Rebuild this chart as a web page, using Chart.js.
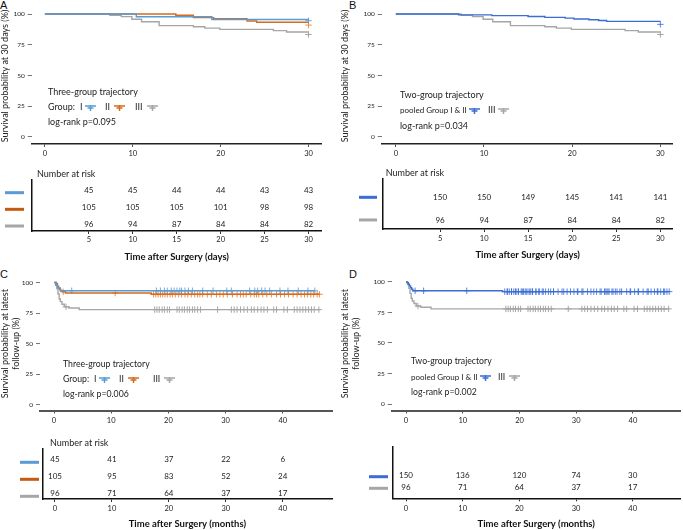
<!DOCTYPE html>
<html><head><meta charset="utf-8">
<script src="https://cdn.jsdelivr.net/npm/chart.js@4/dist/chart.umd.min.js"></script>
<style>
body{margin:0;background:#fff;width:683px;height:530px;overflow:hidden;position:relative}
canvas{position:absolute}
.pl{position:absolute;font:11px "Liberation Sans",Arial,sans-serif;color:#111;line-height:11px}
</style></head><body>
<div class="pl" style="left:0;top:0">A</div>
<div class="pl" style="left:349px;top:0">B</div>
<div class="pl" style="left:0;top:269px">C</div>
<div class="pl" style="left:349px;top:269px">D</div>
<canvas id="aTop" width="340" height="165" style="left:0;top:0"></canvas>
<canvas id="bTop" width="343" height="165" style="left:340px;top:0"></canvas>
<canvas id="aRisk" width="340" height="105" style="left:0;top:165px"></canvas>
<canvas id="bRisk" width="343" height="105" style="left:340px;top:165px"></canvas>
<canvas id="cTop" width="340" height="160" style="left:0;top:270px"></canvas>
<canvas id="dTop" width="343" height="160" style="left:340px;top:270px"></canvas>
<canvas id="cRisk" width="340" height="100" style="left:0;top:430px"></canvas>
<canvas id="dRisk" width="343" height="100" style="left:340px;top:430px"></canvas>
<script>
// ---------------- DATA ----------------
const yTicks = [0, 25, 50, 75, 100];
const dayTicks = [0, 10, 20, 30];
const dayRiskTicks = [5, 10, 15, 20, 25, 30];
const monthTicks = [0, 10, 20, 30, 40];

// 30-day survival (time in days, survival %)
const a_I_t = [0, 10.4, 19.0, 30];
const a_I_s = [100, 97.8, 95.6, 95.6];
const a_II_t = [0, 14.9, 16.9, 19.2, 23.0, 24.1, 30];
const a_II_s = [100, 99.0, 97.1, 96.2, 94.3, 93.3, 93.3];
const a_III_t = [0, 7.4, 8.7, 9.9, 11.0, 13.0, 16.9, 18.2, 19.9, 26.0, 27.5, 30];
const a_III_s = [100, 99.0, 97.9, 95.8, 93.7, 90.6, 89.6, 88.5, 87.5, 86.5, 85.4, 85.4];
const b_P_t = [0, 7.1, 10.9, 15.0, 16.9, 19.2, 20.2, 21.9, 23.0, 23.9, 30];
const b_P_s = [100, 99.3, 98.7, 98.0, 97.3, 96.7, 96.0, 95.3, 94.7, 94.0, 94.0];
// end-of-follow-up censor marks at day 30
const a_endCensor = {I: 94.6, II: 91.0, III: 83.4};
const b_endCensor = {P: 91.6, III: 83.4};

// latest follow-up survival (time in months)
const c_I_t = [0, 0.3, 0.6, 1.1, 45.6];
const c_I_s = [100, 97.8, 95.6, 93.3, 93.3];
const c_II_t = [0, 0.4, 0.6, 0.8, 1.0, 1.2, 1.5, 2.0, 17.0, 46.4];
const c_II_s = [100, 99.0, 97.1, 95.2, 94.3, 93.3, 92.4, 91.4, 90.4, 90.4];
const c_III_t = [0, 0.3, 0.5, 0.7, 0.9, 1.1, 1.4, 1.8, 2.6, 4.4, 46.4];
const c_III_s = [100, 97.9, 94.8, 90.6, 86.5, 84.4, 82.3, 80.2, 79.2, 77.9, 77.9];
const d_P_t = [0, 0.2, 0.4, 0.6, 0.8, 1.0, 1.2, 17.0, 46.4];
const d_P_s = [100, 99.3, 98.0, 96.7, 95.3, 94.0, 92.7, 92.0, 92.0];

const cens_I = [3.1, 17.9, 18.6, 19.3, 19.8, 20.5, 21.0, 21.5, 22.0, 22.3, 22.9, 23.5, 24.2, 26.0, 27.8, 30.2, 31.0, 34.2, 35.1, 35.6, 36.3, 36.9, 37.7, 39.5, 40.9, 42.7, 44.4, 45.6];
const cens_II = [1.6, 10.7, 17.4, 17.8, 18.2, 18.6, 19.0, 19.4, 19.8, 20.3, 20.7, 21.2, 21.8, 22.3, 22.9, 23.4, 24.0, 24.6, 25.1, 25.5, 26.0, 26.8, 27.5, 28.4, 29.0, 29.6, 30.3, 31.2, 32.0, 32.6, 33.1, 33.6, 34.4, 35.0, 35.4, 35.8, 36.5, 37.2, 38.0, 38.9, 39.6, 40.3, 41.0, 41.8, 42.5, 43.2, 43.8, 44.3, 44.9, 45.4, 46.0, 46.4];
const cens_III = [2.1, 17.6, 18.0, 18.4, 18.9, 19.3, 19.8, 20.2, 21.5, 21.9, 22.4, 22.8, 23.3, 23.7, 24.2, 24.6, 25.1, 25.6, 28.6, 31.0, 31.5, 32.0, 32.6, 33.2, 33.8, 34.5, 35.0, 35.6, 36.2, 36.7, 37.3, 38.4, 38.9, 40.2, 40.8, 42.0, 42.5, 43.0, 43.5, 44.0, 44.5, 45.0, 45.5, 46.3];
const cens_P = cens_I.concat(cens_II).sort((a, b) => a - b);

// numbers at risk
const riskA_I = [45, 45, 44, 44, 43, 43];
const riskA_II = [105, 105, 105, 101, 98, 98];
const riskA_III = [96, 94, 87, 84, 84, 82];
const riskB_P = [150, 150, 149, 145, 141, 141];
const riskB_III = [96, 94, 87, 84, 84, 82];
const riskC_I = [45, 41, 37, 22, 6];
const riskC_II = [105, 95, 83, 52, 24];
const riskC_III = [96, 71, 64, 37, 17];
const riskD_P = [150, 136, 120, 74, 30];
const riskD_III = [96, 71, 64, 37, 17];

// ---------------- STYLE ----------------
const FONT = 'Lato, "Liberation Sans", sans-serif';
const TXT = '#222';
const BLUE = '#5B9BD5', ORANGE = '#D46B1E', GRAY = '#A6A6A6', PBLUE = '#3B6DD3';
const BLUE_M = 'rgba(91,155,213,0.85)', ORANGE_M = 'rgba(232,125,45,0.85)', GRAY_M = 'rgba(150,150,150,0.85)', PBLUE_M = 'rgba(59,109,211,0.85)';

function stepPts(ts, ss) { return ts.map((t, i) => ({x: t, y: ss[i]})); }
function survAt(ts, ss, t) { let v = ss[0]; for (let i = 0; i < ts.length; i++) if (ts[i] <= t) v = ss[i]; return v; }
function censorPts(ts, ss, cs) { return cs.map(c => ({x: c, y: survAt(ts, ss, c)})); }
function fixedTicks(vals) { return s => { s.ticks = vals.map(v => ({value: v})); }; }

function drawTexts(ctx, texts, size) {
  texts.forEach(t => {
    ctx.font = (t.size || size) + 'px ' + FONT;
    ctx.fillStyle = TXT; ctx.textAlign = 'left'; ctx.textBaseline = 'middle';
    ctx.fillText(t.text, t.x, t.y);
  });
}
function drawMarks(ctx, marks) {
  marks.forEach(m => {
    ctx.strokeStyle = m.color; ctx.lineWidth = 1.5;
    const cx = (m.x1 + m.x2) / 2;
    ctx.beginPath();
    ctx.moveTo(m.x1, m.y); ctx.lineTo(m.x2, m.y);
    ctx.moveTo(cx, m.y - 1); ctx.lineTo(cx, m.y + 5);
    ctx.moveTo(cx - 3, m.y + 2); ctx.lineTo(cx + 3, m.y + 2);
    ctx.stroke();
  });
}

function kmChart(id, o) {
  const ds = [];
  o.series.forEach(se => ds.push({data: stepPts(se.t, se.s), borderColor: se.color, borderWidth: 1.4, stepped: 'before', pointRadius: 0, fill: false}));
  o.series.forEach(se => ds.push({data: se.cens, showLine: false, borderColor: se.mark, backgroundColor: se.mark, pointStyle: 'cross', pointRadius: 3.2, borderWidth: 1}));
  const ann = {id: 'ann_' + id, afterDraw(chart) {
    const ctx = chart.ctx; ctx.save();
    drawTexts(ctx, o.texts, o.textSize); drawMarks(ctx, o.marks);
    ctx.restore();
  }};
  new Chart(document.getElementById(id), {
    type: 'line',
    data: {datasets: ds},
    options: {
      responsive: false, animation: false, devicePixelRatio: 1,
      layout: {autoPadding: false, padding: {left: 0, right: o.padR, top: o.top, bottom: 0}},
      plugins: {legend: {display: false}, tooltip: {enabled: false}},
      scales: {
        x: {type: 'linear', min: o.xMin, max: o.xMax, afterBuildTicks: fixedTicks(o.xTicks), afterFit: s => { s.height = o.xH; },
          ticks: {font: {family: FONT, size: 7.5}, color: TXT, padding: o.xPad, maxRotation: 0, autoSkip: false},
          grid: {display: true, drawOnChartArea: false, drawTicks: true, tickLength: 3, color: '#555'},
          border: {display: true, color: o.axisColor, width: o.axisW}},
        y: {type: 'linear', min: o.yMin, max: o.yMax, afterBuildTicks: fixedTicks(yTicks), afterFit: s => { s.width = o.left; },
          ticks: {font: {family: FONT, size: 6.5}, color: TXT, padding: o.yPad},
          grid: {display: true, drawOnChartArea: false, drawTicks: true, tickLength: 4, color: '#777'},
          border: {display: false},
          title: {display: true, text: o.yTitle, font: {family: FONT, size: 9}, color: TXT, padding: 0}}
      }
    },
    plugins: [ann]
  });
}

function riskChart(id, o) {
  const ds = o.rows.map(r => ({data: o.ticks.map(t => ({x: t, y: r.y})), showLine: false, pointRadius: 0}));
  const ann = {id: 'ann_' + id, afterDraw(chart) {
    const ctx = chart.ctx; ctx.save();
    ctx.font = '8px ' + FONT; ctx.fillStyle = TXT; ctx.textAlign = 'center'; ctx.textBaseline = 'middle';
    o.rows.forEach((r, i) => {
      const meta = chart.getDatasetMeta(i);
      meta.data.forEach((p, j) => { ctx.fillText(String(r.counts[j]), p.x, p.y); });
      const yy = chart.scales.y.getPixelForValue(r.y) + o.barDy;
      ctx.fillStyle = r.color; ctx.fillRect(o.barX1, yy - 1.5, o.barX2 - o.barX1, 3); ctx.fillStyle = TXT;
    });
    if (o.label) { ctx.textAlign = 'left'; ctx.font = '9px ' + FONT; ctx.fillText('Number at risk', o.label.x, o.label.y); }
    ctx.restore();
  }};
  new Chart(document.getElementById(id), {
    type: 'line',
    data: {datasets: ds},
    options: {
      responsive: false, animation: false, devicePixelRatio: 1,
      layout: {autoPadding: false, padding: {left: 0, right: o.padR, top: o.top, bottom: 0}},
      plugins: {legend: {display: false}, tooltip: {enabled: false}},
      scales: {
        x: {type: 'linear', min: o.xMin, max: o.xMax, afterBuildTicks: fixedTicks(o.ticks), afterFit: s => { s.height = o.xH; },
          ticks: {font: {family: FONT, size: 7.5}, color: TXT, padding: o.xPad, maxRotation: 0, autoSkip: false},
          grid: {display: true, drawOnChartArea: false, drawTicks: true, tickLength: 3, color: '#333'},
          border: {display: true, color: '#111', width: 1.5},
          title: {display: true, text: o.title, font: {family: FONT, size: 9.5, weight: 'bold'}, color: '#111', padding: {top: 0, bottom: o.titlePad}}},
        y: {type: 'linear', min: o.yMin, max: o.yMax, afterFit: s => { s.width = o.left; },
          ticks: {display: false},
          grid: {display: true, drawOnChartArea: false, drawTicks: false},
          border: {display: true, color: '#111', width: 1.5}}
      }
    },
    plugins: [ann]
  });
}

// ---------------- PANEL A ----------------
kmChart('aTop', {
  left: 31.7, padR: 18.3, top: 8, xH: 21, xMin: -1.5, xMax: 31.5, yMin: -5.7, yMax: 104.9,
  xTicks: dayTicks, xPad: 2.5, yPad: 3, axisColor: '#222', axisW: 1.5,
  yTitle: 'Survival probability at 30 days (%)', textSize: 9,
  series: [
    {t: a_I_t, s: a_I_s, color: BLUE, mark: BLUE_M, cens: [{x: 30, y: a_endCensor.I}]},
    {t: a_II_t, s: a_II_s, color: ORANGE, mark: ORANGE_M, cens: [{x: 30, y: a_endCensor.II}]},
    {t: a_III_t, s: a_III_s, color: GRAY, mark: GRAY_M, cens: [{x: 30, y: a_endCensor.III}]}
  ],
  texts: [{text: 'Three-group trajectory', x: 48, y: 92}, {text: 'Group:', x: 48, y: 107}, {text: 'I', x: 80, y: 107},
    {text: 'II', x: 105, y: 107}, {text: 'III', x: 135, y: 107}, {text: 'log-rank p=0.095', x: 48, y: 122}],
  marks: [{x1: 85, x2: 96, y: 106, color: BLUE}, {x1: 114, x2: 125, y: 106, color: ORANGE}, {x1: 147, x2: 158, y: 106, color: GRAY}]
});
riskChart('aRisk', {
  left: 31.7, padR: 18.3, top: 15, xH: 39, xMin: -1.5, xMax: 31.5, yMin: 0.58, yMax: 3.64, xPad: 1.5,
  ticks: dayRiskTicks, title: 'Time after Surgery (days)', titlePad: 7.6,
  rows: [{y: 3, counts: riskA_I, color: BLUE}, {y: 2, counts: riskA_II, color: '#C55A11'}, {y: 1, counts: riskA_III, color: GRAY}],
  barX1: 5, barX2: 24, barDy: 2, label: {x: 37, y: 9}
});

// ---------------- PANEL B ----------------
kmChart('bTop', {
  left: 41.7, padR: 10.3, top: 8, xH: 21, xMin: -1.6, xMax: 31.4, yMin: -5.7, yMax: 104.9,
  xTicks: dayTicks, xPad: 2.5, yPad: 3, axisColor: '#222', axisW: 1.5,
  yTitle: 'Survival probability at 30 days (%)', textSize: 9,
  series: [
    {t: b_P_t, s: b_P_s, color: PBLUE, mark: PBLUE_M, cens: [{x: 30, y: b_endCensor.P}]},
    {t: a_III_t, s: a_III_s, color: GRAY, mark: GRAY_M, cens: [{x: 30, y: b_endCensor.III}]}
  ],
  texts: [{text: 'Two-group trajectory', x: 60, y: 95}, {text: 'pooled Group I & II', x: 60, y: 110, size: 8},
    {text: 'III', x: 148, y: 110}, {text: 'log-rank p=0.034', x: 60, y: 125.7}],
  marks: [{x1: 129, x2: 140, y: 109, color: PBLUE}, {x1: 158, x2: 169, y: 109, color: GRAY}]
});
riskChart('bRisk', {
  left: 42.7, padR: 10.3, top: 14, xH: 41, xMin: -1.51, xMax: 31.4, yMin: 0.6, yMax: 2.81, xPad: 2.5,
  ticks: dayRiskTicks, title: 'Time after Surgery (days)', titlePad: 9.3,
  rows: [{y: 2, counts: riskB_P, color: PBLUE}, {y: 1, counts: riskB_III, color: GRAY}],
  barX1: 19, barX2: 37, barDy: 0, label: {x: 45.7, y: 7.7}
});

// ---------------- PANEL C ----------------
kmChart('cTop', {
  left: 40, padR: 8, top: 6, xH: 19.5, xMin: -2.45, xMax: 48.6, yMin: -4.5, yMax: 104.6,
  xTicks: monthTicks, xPad: 2.7, yPad: 3, axisColor: '#555', axisW: 2,
  yTitle: ['Survival probability at latest', 'follow-up (%)'], textSize: 8.7,
  series: [
    {t: c_I_t, s: c_I_s, color: BLUE, mark: BLUE_M, cens: censorPts(c_I_t, c_I_s, cens_I)},
    {t: c_II_t, s: c_II_s, color: ORANGE, mark: ORANGE_M, cens: censorPts(c_II_t, c_II_s, cens_II)},
    {t: c_III_t, s: c_III_s, color: GRAY, mark: GRAY_M, cens: censorPts(c_III_t, c_III_s, cens_III)}
  ],
  texts: [{text: 'Three-group trajectory', x: 63, y: 94.3}, {text: 'Group:', x: 63, y: 109}, {text: 'I', x: 94, y: 109},
    {text: 'II', x: 119, y: 109}, {text: 'III', x: 153, y: 109}, {text: 'log-rank p=0.006', x: 63, y: 124.3}],
  marks: [{x1: 99, x2: 110, y: 108, color: BLUE}, {x1: 128, x2: 139, y: 108, color: ORANGE}, {x1: 164, x2: 175, y: 108, color: GRAY}]
});
riskChart('cRisk', {
  left: 42.7, padR: 8, top: 19, xH: 31, xMin: -2.16, xMax: 48.66, yMin: 0.665, yMax: 3.606, xPad: 1.8,
  ticks: monthTicks, title: 'Time after Surgery (months)', titlePad: 0,
  rows: [{y: 3, counts: riskC_I, color: BLUE}, {y: 2, counts: riskC_II, color: '#C55A11'}, {y: 1, counts: riskC_III, color: GRAY}],
  barX1: 20, barX2: 39, barDy: 3, label: {x: 50, y: 12.7}
});

// ---------------- PANEL D ----------------
kmChart('dTop', {
  left: 51.7, padR: 3, top: 6, xH: 19.5, xMin: -2.53, xMax: 48.3, yMin: -5.28, yMax: 104.07,
  xTicks: monthTicks, xPad: 2.7, yPad: 3, axisColor: '#555', axisW: 2,
  yTitle: ['Survival probability at latest', 'follow-up (%)'], textSize: 8.7,
  series: [
    {t: d_P_t, s: d_P_s, color: PBLUE, mark: PBLUE_M, cens: censorPts(d_P_t, d_P_s, cens_P)},
    {t: c_III_t, s: c_III_s, color: GRAY, mark: GRAY_M, cens: censorPts(c_III_t, c_III_s, cens_III)}
  ],
  texts: [{text: 'Two-group trajectory', x: 71, y: 90.7}, {text: 'pooled Group I & II', x: 71, y: 107.3, size: 8},
    {text: 'III', x: 158, y: 107.3}, {text: 'log-rank p=0.002', x: 71, y: 122.3}],
  marks: [{x1: 140, x2: 151, y: 106, color: PBLUE}, {x1: 169, x2: 180, y: 106, color: GRAY}]
});
riskChart('dRisk', {
  left: 52.3, padR: 3, top: 16.7, xH: 31.7, xMin: -2.42, xMax: 48.35, yMin: 0.052, yMax: 4.5, xPad: 2.5,
  ticks: monthTicks, title: 'Time after Surgery (months)', titlePad: 0,
  rows: [{y: 2, counts: riskD_P, color: PBLUE}, {y: 1, counts: riskD_III, color: GRAY}],
  barX1: 29, barX2: 48, barDy: 1, label: null
});
</script>
</body></html>
